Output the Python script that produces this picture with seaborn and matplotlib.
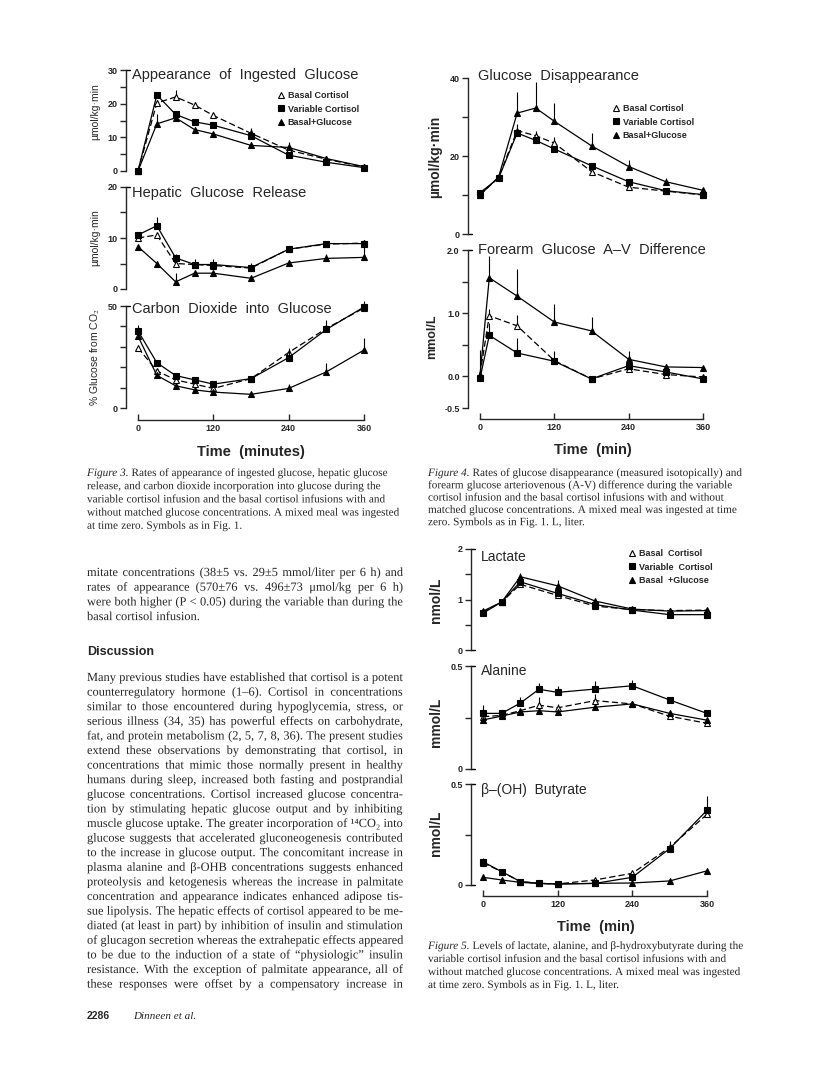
import numpy as np
import matplotlib
matplotlib.use('Agg')
import matplotlib.pyplot as plt
import matplotlib.patheffects as pe
import seaborn as sns

W, H = 816, 1076

# time points (minutes after the meal)
t9 = [0, 30, 60, 90, 120, 180, 240, 300, 360]
t_av = [0, 15, 60, 120, 180, 240, 300, 360]
t_lac = [0, 30, 60, 120, 180, 240, 300, 360]

groups = ['Basal Cortisol', 'Variable Cortisol', 'Basal+Glucose']
groups5 = ['Basal  Cortisol', 'Variable  Cortisol', 'Basal  +Glucose']

# Fig 3 - appearance of ingested glucose (umol/kg/min)
ra_basal = [0, 20.2, 22.0, 19.6, 16.5, 11.2, 6.2, 3.5, 1.2]
ra_var = [0, 22.6, 16.8, 14.6, 13.6, 10.5, 4.7, 2.6, 1.0]
ra_bg = [0, 14.0, 15.8, 12.3, 11.0, 7.6, 7.0, 3.7, 1.3]
ra_basal_se = [0, 1.0, 2.2, 0.8, 0.8, 1.2, 0.8, 0.5, 0.4]
ra_var_se = [0, 0.8, 0, 0.6, 0.5, 2.2, 0.4, 0.3, 0.3]
ra_bg_se = [0, 3.0, 0.8, 0.7, 0.6, 1.0, 1.6, 0.8, 0.4]

# Fig 3 - hepatic glucose release
hgr_basal = [10.0, 10.6, 5.0, 4.8, 4.6, 4.1, 7.8, 8.8, 9.0]
hgr_var = [10.6, 12.4, 6.1, 4.8, 4.8, 4.2, 7.8, 8.9, 8.9]
hgr_bg = [8.3, 5.0, 1.4, 3.1, 3.1, 2.1, 5.1, 6.0, 6.2]
hgr_basal_se = [0, 0, 0, 0, 0, 0, 0, 0, 0]
hgr_var_se = [0.5, 1.8, 0.7, 1.0, 1.0, 0.9, 0.6, 0.5, 0.7]
hgr_bg_se = [0, 0, 1.7, 0, 0, 0, 0.5, 0.8, 2.6]

# Fig 3 - carbon dioxide into glucose (%)
co2_basal = [29.5, 18.2, 13.8, 11.7, 9.6, 14.4, 27.2, 39.0, 49.0]
co2_var = [37.8, 22.2, 15.9, 13.8, 11.7, 14.4, 24.7, 38.5, 49.5]
co2_bg = [35.2, 16.0, 10.9, 8.9, 7.8, 6.7, 9.6, 17.7, 28.4]
co2_basal_se = [0, 0, 0, 0, 0, 0, 0, 0, 0]
co2_var_se = [3.0, 0.8, 0.8, 0.8, 0.6, 0.5, 4.5, 4.8, 3.0]
co2_bg_se = [0, 0, 0, 0, 0, 0, 2.0, 4.5, 6.0]

# Fig 4 - glucose disappearance
rd_basal = [10.0, 14.5, 26.5, 25.2, 23.3, 16.0, 12.0, 11.0, 10.0]
rd_var = [10.6, 14.3, 25.9, 24.0, 21.8, 17.5, 13.4, 11.1, 10.1]
rd_bg = [10.0, 14.6, 31.0, 32.3, 28.9, 22.6, 17.3, 13.4, 11.2]
rd_basal_se = [0, 0.5, 0, 1.3, 1.5, 0, 0, 0, 0]
rd_var_se = [0, 0.8, 2.3, 0, 0, 0.6, 0.6, 0, 0]
rd_bg_se = [0, 0, 5.5, 6.6, 4.6, 3.2, 1.7, 0.9, 0.5]

# Fig 4 - forearm glucose A-V difference (mmol/L)
av_basal = [0.03, 0.96, 0.80, 0.25, -0.04, 0.12, 0.03, -0.01]
av_var = [-0.03, 0.65, 0.37, 0.24, -0.04, 0.17, 0.07, -0.04]
av_bg = [0.02, 1.56, 1.27, 0.86, 0.72, 0.27, 0.15, 0.14]
av_basal_se = [0, 0.11, 0.17, 0, 0, 0, 0, 0]
av_var_se = [0, 0.2, 0.23, 0.16, 0, 0.04, 0, 0]
av_bg_se = [0.4, 0.34, 0.43, 0.28, 0.22, 0.13, 0.05, 0]

# Fig 5 - lactate, alanine, beta-hydroxybutyrate
lac_basal = [0.75, 0.95, 1.30, 1.08, 0.87, 0.80, 0.78, 0.79]
lac_var = [0.73, 0.95, 1.35, 1.12, 0.90, 0.79, 0.70, 0.70]
lac_bg = [0.77, 0.95, 1.45, 1.27, 0.97, 0.81, 0.77, 0.78]
lac_basal_se = [0, 0, 0, 0, 0, 0, 0, 0]
lac_var_se = [0, 0, 0.05, 0.03, 0, 0, 0, 0.03]
lac_bg_se = [0.03, 0, 0.08, 0.12, 0.03, 0.02, 0.02, 0.02]

ala_basal = [0.254, 0.260, 0.283, 0.310, 0.297, 0.332, 0.316, 0.256, 0.222]
ala_var = [0.270, 0.270, 0.320, 0.387, 0.372, 0.388, 0.404, 0.335, 0.270]
ala_bg = [0.238, 0.257, 0.277, 0.283, 0.277, 0.300, 0.316, 0.270, 0.237]
ala_basal_se = [0, 0, 0, 0.04, 0.02, 0.03, 0, 0, 0]
ala_var_se = [0.04, 0.01, 0.03, 0.03, 0.03, 0.04, 0.03, 0.01, 0.01]
ala_bg_se = [0, 0, 0, 0, 0, 0, 0, 0, 0]

but_basal = [0.11, 0.066, 0.017, 0.008, 0.005, 0.025, 0.058, 0.186, 0.35]
but_var = [0.115, 0.066, 0.017, 0.008, 0.005, 0.008, 0.038, 0.18, 0.37]
but_bg = [0.038, 0.025, 0.013, 0.008, 0.005, 0.008, 0.010, 0.020, 0.070]
but_basal_se = [0, 0, 0, 0, 0, 0, 0, 0, 0]
but_var_se = [0.02, 0, 0, 0, 0, 0, 0, 0.04, 0.07]
but_bg_se = [0, 0, 0, 0, 0, 0, 0, 0, 0]

sns.set_style('ticks')
plt.rcParams['font.family'] = ['Liberation Sans', 'DejaVu Sans']
plt.rcParams['mathtext.fontset'] = 'stix'
plt.rcParams['axes.linewidth'] = 1.0

fig = plt.figure(figsize=(W / 100, H / 100), dpi=100)
fig.patch.set_facecolor('white')
renderer = fig.canvas.get_renderer()

SANS = 'Liberation Sans'
SERIF = ['Liberation Serif', 'DejaVu Serif']

styles = [
    dict(marker='^', mfc='white', ls=(0, (5, 2.5))),
    dict(marker='s', mfc='black', ls='-'),
    dict(marker='^', mfc='black', ls='-'),
]


def fx(x):
    return x / W


def fy(y):
    return 1 - y / H


def make_axes(yax, t0, t360, right, ytop, ybot, ylim, xaxis=None):
    ax = fig.add_axes([fx(yax), fy(ybot), (right - yax) / W, (ybot - ytop) / H])
    sc = (t360 - t0) / 360
    ax.set_xlim(-(t0 - yax) / sc, 360 + (right - t360) / sc)
    ax.set_ylim(*ylim)
    ax.set_facecolor('none')
    for s in ['top', 'right']:
        ax.spines[s].set_visible(False)
    if xaxis is None:
        ax.spines['bottom'].set_visible(False)
        ax.tick_params(axis='x', bottom=False, labelbottom=False)
    else:
        ax.spines['bottom'].set_position(('outward', (xaxis - ybot) * 0.72))
        ax.spines['bottom'].set_bounds(0, 360)
        ax.set_xticks([0, 120, 240, 360])
        ax.tick_params(axis='x', direction='in', length=4, width=1, labelsize=6.5, pad=3)
        for lab in ax.get_xticklabels():
            lab.set_fontweight('bold')
    return ax


def y_ticks(ax, major, labels, minor=(), top=True, bottom=False):
    ax.set_yticks(major)
    ax.set_yticklabels(labels)
    ax.set_yticks(list(minor), minor=True)
    ax.tick_params(axis='y', which='both', direction='out', length=4, width=1, labelsize=6.5, pad=2)
    for lab in ax.get_yticklabels():
        lab.set_fontweight('bold')
    wfrac = 4 / (ax.get_position().width * W)
    if top:
        ax.plot([0, wfrac], [1, 1], transform=ax.transAxes, color='black', lw=1, clip_on=False)
    if bottom:
        ax.plot([0, wfrac], [0, 0], transform=ax.transAxes, color='black', lw=1, clip_on=False)


def draw(ax, t, ys, errs):
    for y, e, st in zip(ys, errs, styles):
        ax.errorbar(t, y, yerr=[np.zeros(len(e)), e], fmt='none', ecolor='black',
                    elinewidth=0.8, capsize=0, clip_on=False)
        sns.lineplot(x=t, y=y, ax=ax, color='black', lw=0.9, linestyle=st['ls'],
                     marker=st['marker'], markersize=4.2, markerfacecolor=st['mfc'],
                     markeredgecolor='black', markeredgewidth=0.8, clip_on=False, legend=False)
    ax.set_xlabel('')
    ax.set_ylabel('')


def add_legend(ax, names, x, ytop):
    handles = [plt.Line2D([], [], ls='none', marker=st['marker'], markersize=4,
                          markerfacecolor=st['mfc'], markeredgecolor='black', markeredgewidth=0.8)
               for st in styles]
    leg = ax.legend(handles, names, loc='upper left', bbox_to_anchor=(fx(x), fy(ytop)),
                    bbox_transform=fig.transFigure, frameon=False, fontsize=6.5,
                    handlelength=0.9, handletextpad=0.3, labelspacing=0.5,
                    borderpad=0, borderaxespad=0)
    for txt in leg.get_texts():
        txt.set_fontweight('bold')


def title(x, y, s, size=10.5):
    fig.text(fx(x), fy(y), s, fontsize=size, family=SANS, ha='left', va='center')


def ylabel(x, y, s, size=8, weight='normal'):
    fig.text(fx(x), fy(y), s, fontsize=size, family=SANS, rotation=90, ha='center', va='center',
             fontweight=weight)


# ---------------- Figure 3 ----------------
ax1 = make_axes(126, 138, 364, 372, 70, 171, (0, 30))
draw(ax1, t9, [ra_basal, ra_var, ra_bg], [ra_basal_se, ra_var_se, ra_bg_se])
y_ticks(ax1, [0, 10, 20, 30], ['0', '10', '20', '30'], [5, 15, 25])
add_legend(ax1, groups, 277, 91)
title(132, 75, 'Appearance  of  Ingested  Glucose')
ylabel(95, 112, 'µmol/kg·min', 7.5)

ax2 = make_axes(126, 138, 364, 372, 187, 289, (0, 20))
draw(ax2, t9, [hgr_basal, hgr_var, hgr_bg], [hgr_basal_se, hgr_var_se, hgr_bg_se])
y_ticks(ax2, [0, 10, 20], ['0', '10', '20'], [5, 15])
title(132, 193, 'Hepatic  Glucose  Release')
ylabel(95, 238, 'µmol/kg·min', 7.5)

ax3 = make_axes(126, 138, 364, 372, 306, 408, (0, 50), xaxis=420)
draw(ax3, t9, [co2_basal, co2_var, co2_bg], [co2_basal_se, co2_var_se, co2_bg_se])
y_ticks(ax3, [0, 50], ['0', '50'], [10, 20, 30, 40])
title(132, 309, 'Carbon  Dioxide  into  Glucose')
ylabel(95, 357, '% Glucose from CO$_2$', 7.5)
fig.text(fx(251), fy(452), 'Time  (minutes)', fontsize=10.5, family=SANS, ha='center', va='center',
         fontweight='bold')

# ---------------- Figure 4 ----------------
ax4 = make_axes(468, 480, 703, 712, 78, 234, (0, 40))
draw(ax4, t9, [rd_basal, rd_var, rd_bg], [rd_basal_se, rd_var_se, rd_bg_se])
y_ticks(ax4, [0, 20, 40], ['0', '20', '40'], [10, 30], top=False, bottom=True)
add_legend(ax4, groups, 612, 104)
title(478, 76, 'Glucose  Disappearance')
ylabel(435, 157, 'µmol/kg·min', 10, 'bold')

ax5 = make_axes(468, 480, 703, 712, 250, 408, (-0.5, 2.0), xaxis=419)
draw(ax5, t_av, [av_basal, av_var, av_bg], [av_basal_se, av_var_se, av_bg_se])
y_ticks(ax5, [-0.5, 0, 1, 2], ['-0.5', '0.0', '1.0', '2.0'], [0.5, 1.5])
title(478, 250, 'Forearm  Glucose  A–V  Difference')
ylabel(432, 337, 'mmol/L', 9, 'bold')
fig.text(fx(593), fy(450), 'Time  (min)', fontsize=10.5, family=SANS, ha='center', va='center',
         fontweight='bold')

# ---------------- Figure 5 ----------------
ax6 = make_axes(471, 483, 707, 715, 549, 650, (0, 2))
draw(ax6, t_lac, [lac_basal, lac_var, lac_bg], [lac_basal_se, lac_var_se, lac_bg_se])
y_ticks(ax6, [0, 1, 2], ['0', '1', '2'], [0.5, 1.5], bottom=True)
add_legend(ax6, groups5, 628, 549)
title(481, 557, 'Lactate', 10)
ylabel(436, 600, 'nmol/L', 10, 'bold')

ax7 = make_axes(471, 483, 707, 715, 666, 769, (0, 0.5))
draw(ax7, t9, [ala_basal, ala_var, ala_bg], [ala_basal_se, ala_var_se, ala_bg_se])
y_ticks(ax7, [0, 0.5], ['0', '0.5'], [0.25], bottom=True)
title(481, 671, 'Alanine', 10)
ylabel(436, 722, 'mmol/L', 10, 'bold')

ax8 = make_axes(471, 483, 707, 715, 784, 885, (0, 0.5), xaxis=896)
draw(ax8, t9, [but_basal, but_var, but_bg], [but_basal_se, but_var_se, but_bg_se])
y_ticks(ax8, [0, 0.5], ['0', '0.5'], [0.25], bottom=True)
title(481, 790, 'β–(OH)  Butyrate', 10)
ylabel(436, 833, 'nmol/L', 10, 'bold')
fig.text(fx(596), fy(927), 'Time  (min)', fontsize=10.5, family=SANS, ha='center', va='center',
         fontweight='bold')


# ---------------- page text ----------------
# words are separate texts drawn as paths, so they share one exact baseline
def make_words(line, size):
    arts = []
    for word in line.split(' '):
        style = 'normal'
        if word.startswith('*'):
            word, style = word[1:], 'italic'
        arts.append(fig.text(0, 0, word, fontsize=size, family=SERIF, style=style,
                             ha='left', va='baseline', path_effects=[pe.Normal()]))
    widths = [a.get_window_extent(renderer).width for a in arts]
    return arts, widths


def space_width(size):
    arts, widths = make_words('a', size)
    t = fig.text(0, 0, 'a a', fontsize=size, family=SERIF)
    w = t.get_window_extent(renderer).width - 2 * widths[0]
    t.remove()
    arts[0].remove()
    return w


def place_line(x0, y_base, line, size, width=None):
    arts, widths = make_words(line, size)
    gap = space_width(size)
    if width is not None and len(arts) > 1:
        gap = (width - sum(widths)) / (len(arts) - 1)
    x = x0
    for a, w in zip(arts, widths):
        a.set_position((fx(x), fy(y_base)))
        x += w + gap


def fit_size(lines, width, ref=10.0):
    sp = space_width(ref)
    best = 99
    for line in lines:
        arts, widths = make_words(line, ref)
        nat = sum(widths) + sp * (len(arts) - 1)
        for a in arts:
            a.remove()
        best = min(best, ref * width / nat)
    return best


cap3 = [
    '*Figure *3. Rates of appearance of ingested glucose, hepatic glucose',
    'release, and carbon dioxide incorporation into glucose during the',
    'variable cortisol infusion and the basal cortisol infusions with and',
    'without matched glucose concentrations. A mixed meal was ingested',
    'at time zero. Symbols as in Fig. 1.',
]
cap4 = [
    '*Figure *4. Rates of glucose disappearance (measured isotopically) and',
    'forearm glucose arteriovenous (A-V) difference during the variable',
    'cortisol infusion and the basal cortisol infusions with and without',
    'matched glucose concentrations. A mixed meal was ingested at time',
    'zero. Symbols as in Fig. 1. L, liter.',
]
cap5 = [
    '*Figure *5. Levels of lactate, alanine, and β-hydroxybutyrate during the',
    'variable cortisol infusion and the basal cortisol infusions with and',
    'without matched glucose concentrations. A mixed meal was ingested',
    'at time zero. Symbols as in Fig. 1. L, liter.',
]
body1 = [
    'mitate concentrations (38±5 vs. 29±5 mmol/liter per 6 h) and',
    'rates of appearance (570±76 vs. 496±73 μmol/kg per 6 h)',
    'were both higher (P < 0.05) during the variable than during the',
    'basal cortisol infusion.',
]
body2 = [
    'Many previous studies have established that cortisol is a potent',
    'counterregulatory hormone (1–6). Cortisol in concentrations',
    'similar to those encountered during hypoglycemia, stress, or',
    'serious illness (34, 35) has powerful effects on carbohydrate,',
    'fat, and protein metabolism (2, 5, 7, 8, 36). The present studies',
    'extend these observations by demonstrating that cortisol, in',
    'concentrations that mimic those normally present in healthy',
    'humans during sleep, increased both fasting and postprandial',
    'glucose concentrations. Cortisol increased glucose concentra-',
    'tion by stimulating hepatic glucose output and by inhibiting',
    'muscle glucose uptake. The greater incorporation of ¹⁴CO₂ into',
    'glucose suggests that accelerated gluconeogenesis contributed',
    'to the increase in glucose output. The concomitant increase in',
    'plasma alanine and β-OHB concentrations suggests enhanced',
    'proteolysis and ketogenesis whereas the increase in palmitate',
    'concentration and appearance indicates enhanced adipose tis-',
    'sue lipolysis. The hepatic effects of cortisol appeared to be me-',
    'diated (at least in part) by inhibition of insulin and stimulation',
    'of glucagon secretion whereas the extrahepatic effects appeared',
    'to be due to the induction of a state of “physiologic” insulin',
    'resistance. With the exception of palmitate appearance, all of',
    'these responses were offset by a compensatory increase in',
]

body_size = fit_size(body1[:-1] + body2, 316)

for i, line in enumerate(cap3):
    place_line(87, 476 + 13.2 * i, line, 8.1)
for i, line in enumerate(cap4):
    place_line(428, 476 + 12.3 * i, line, 8.1)
for i, line in enumerate(cap5):
    place_line(428, 949 + 13 * i, line, 8.1)
for i, line in enumerate(body1):
    last = i == len(body1) - 1
    place_line(87, 576 + 14.7 * i, line, body_size, None if last else 316)
fig.text(fx(87), fy(655), 'Discussion', fontsize=9, family=SANS, fontweight='bold', va='baseline')
for i, line in enumerate(body2):
    place_line(87, 681 + 14.6 * i, line, body_size, 316)

fig.text(fx(87), fy(1019), '2286', fontsize=7.5, family=SANS, fontweight='bold', va='baseline')
fig.text(fx(133), fy(1019), 'Dinneen et al.', fontsize=8, family=SERIF, style='italic', va='baseline')

fig.savefig('out.png', dpi=100, facecolor='white')
